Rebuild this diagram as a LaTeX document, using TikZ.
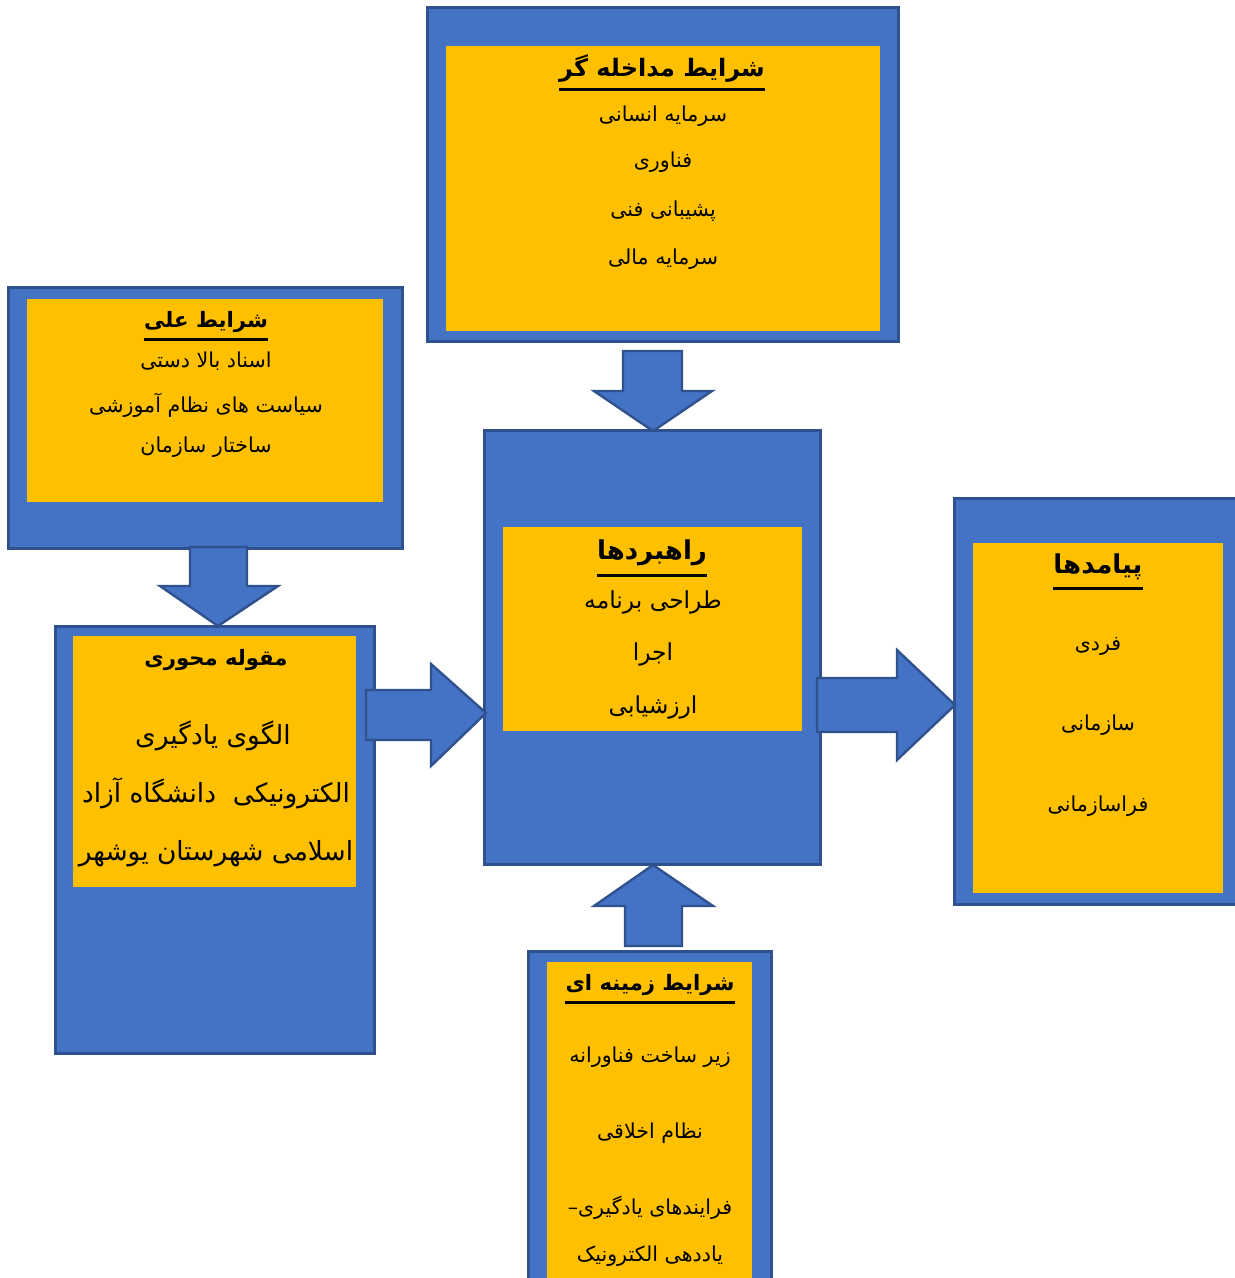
\documentclass[tikz,border=0pt]{standalone}
\usepackage{fontspec}
\TeXXeTstate=1
\newfontfamily\fa[Script=Arabic]{DejaVu Sans}
\definecolor{boxblue}{HTML}{4472C4}
\definecolor{boxedge}{HTML}{2F528F}
\definecolor{gold}{HTML}{FFC000}
\tikzset{
  outerbox/.style={fill=boxblue,draw=boxedge,line width=1.5pt},
  innerbox/.style={fill=gold},
  blockarrow/.style={fill=boxblue,draw=boxedge,line width=1.2pt,line join=miter},
  lbl/.style={inner sep=0pt,yshift=-1.5pt},
  txt/.style={lbl,font=\fa\fontsize{10.3}{12}\selectfont},
  midtxt/.style={lbl,font=\fa\fontsize{11.7}{14}\selectfont},
  bigtxt/.style={lbl,font=\fa\fontsize{13.2}{15}\selectfont},
  ttl/.style={lbl,font=\fa\bfseries\fontsize{10.6}{12}\selectfont},
  midttl/.style={lbl,font=\fa\bfseries\fontsize{12}{14}\selectfont},
  bigttl/.style={lbl,font=\fa\bfseries\fontsize{13}{15}\selectfont},
  uline/.style={line width=1.5pt,black}
}
\begin{document}
\begin{tikzpicture}[x=0.5pt,y=-0.5pt]
\clip (0,0) rectangle (1235,1278);
\fill[white] (0,0) rectangle (1235,1278);
% boxes
\path[outerbox] (427,8) rectangle (898,342);
\path[innerbox] (446,46) rectangle (880,331);
\path[outerbox] (8,288) rectangle (402,548);
\path[innerbox] (27,299) rectangle (383,502);
\path[outerbox] (55,626) rectangle (374,1053);
\path[innerbox] (73,636) rectangle (356,887);
\path[outerbox] (484,430) rectangle (820,864);
\path[innerbox] (503,527) rectangle (802,731);
\path[outerbox] (954,498) rectangle (1250,904);
\path[innerbox] (973,543) rectangle (1223,893);
\path[outerbox] (528,951) rectangle (771,1300);
\path[innerbox] (547,962) rectangle (752,1300);
% block arrows
\path[blockarrow] (623,351) -- (682,351) -- (682,391) -- (712,391) -- (653,431) -- (594,391) -- (623,391) -- cycle;
\path[blockarrow] (190,547) -- (247,547) -- (247,586) -- (278,586) -- (218,626) -- (160,586) -- (190,586) -- cycle;
\path[blockarrow] (366,690) -- (431,690) -- (431,664) -- (486,713) -- (431,766) -- (431,740) -- (366,740) -- cycle;
\path[blockarrow] (817,678) -- (897,678) -- (897,650) -- (955,705) -- (897,760) -- (897,732) -- (817,732) -- cycle;
\path[blockarrow] (625,946) -- (682,946) -- (682,906) -- (713,906) -- (653,865) -- (594,906) -- (625,906) -- cycle;
% top box: intervening conditions
\node[midttl] (t0) at (662,66) {\beginR شرایط مداخله گر\endR};
\node[txt] (t1) at (663,113) {\beginR سرمایه انسانی\endR};
\node[txt] (t2) at (663,159) {\beginR فناوری\endR};
\node[txt] (t3) at (663,208) {\beginR پشیبانی فنی\endR};
\node[txt] (t4) at (663,256) {\beginR سرمایه مالی\endR};
\coordinate (u0) at (0,90);
\draw[uline] (t0.west |- u0) -- (t0.east |- u0);
% left box: causal conditions
\node[ttl] (c0) at (206,319) {\beginR شرایط علی\endR};
\node[txt] (c1) at (206,358) {\beginR اسناد بالا دستی\endR};
\node[txt] (c2) at (206,402) {\beginR سیاست های نظام آموزشی\endR};
\node[txt] (c3) at (206,444) {\beginR ساختار سازمان\endR};
\coordinate (u1) at (0,340);
\draw[uline] (c0.west |- u1) -- (c0.east |- u1);
% core category
\node[ttl] (k0) at (216,657) {\beginR مقوله محوری\endR};
\node[bigtxt] (k1) at (213,733) {\beginR الگوی یادگیری\endR};
\node[bigtxt] (k2) at (216,790) {\beginR الکترونیکی\ \ دانشگاه آزاد\endR};
\node[bigtxt] (k3) at (216,851) {\beginR اسلامی شهرستان یوشهر\endR};
% center: strategies
\node[bigttl] (s0) at (652,550) {\beginR راهبردها\endR};
\node[midtxt] (s1) at (653,599) {\beginR طراحی برنامه\endR};
\node[midtxt] (s2) at (653,651) {\beginR اجرا\endR};
\node[midtxt] (s3) at (653,704) {\beginR ارزشیابی\endR};
\coordinate (u2) at (0,575);
\draw[uline] (s0.west |- u2) -- (s0.east |- u2);
% right: consequences
\node[bigttl] (p0) at (1098,564) {\beginR پیامدها\endR};
\node[txt] (p1) at (1098,643) {\beginR فردی\endR};
\node[txt] (p2) at (1098,722) {\beginR سازمانی\endR};
\node[txt] (p3) at (1098,803) {\beginR فراسازمانی\endR};
\coordinate (u3) at (0,588);
\draw[uline] (p0.west |- u3) -- (p0.east |- u3);
% bottom: contextual conditions
\node[ttl] (z0) at (650,982) {\beginR شرایط زمینه ای\endR};
\node[txt] (z1) at (650,1054) {\beginR زیر ساخت فناورانه\endR};
\node[txt] (z2) at (650,1130) {\beginR نظام اخلاقی\endR};
\node[txt] (z3) at (650,1205) {\beginR فرایندهای یادگیری–\endR};
\node[txt] (z4) at (650,1253) {\beginR یاددهی الکترونیک\endR};
\coordinate (u4) at (0,1002);
\draw[uline] (z0.west |- u4) -- (z0.east |- u4);
\end{tikzpicture}
\end{document}
